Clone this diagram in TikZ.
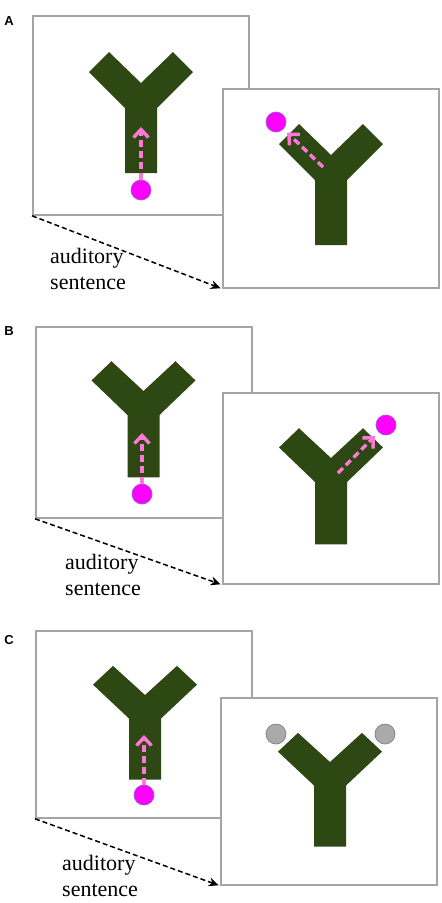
\documentclass[tikz,border=0pt]{standalone}
\usepackage{fontspec}
\setmainfont{Liberation Serif}
\setsansfont{Liberation Sans}
\usetikzlibrary{arrows.meta}

\definecolor{forkgreen}{RGB}{46,72,20}
\definecolor{ballpink}{RGB}{255,0,255}
\definecolor{balledge}{RGB}{150,90,210}
\definecolor{trackpink}{RGB}{255,120,215}
\definecolor{framegray}{RGB}{165,165,165}
\definecolor{ballgray}{RGB}{170,170,170}

\tikzset{
  frame/.style={draw=framegray, line width=1.8pt, fill=white, inner sep=0pt,
    minimum width=216pt, anchor=north west},
  ball/.style={circle, fill=ballpink, draw=balledge, line width=0.7pt,
    minimum size=20pt, inner sep=0pt},
  greyball/.style={ball, fill=ballgray, draw=gray},
  track/.style={draw=trackpink, line width=3.4pt, dash pattern=on 7pt off 4pt,
    -{Straight Barb[length=8pt,width=15pt]}},
  cue/.style={black, line width=1.5pt, dash pattern=on 5pt off 3pt,
    -{Stealth[length=10pt,width=9pt]}, shorten >=1.5pt},
  cuetext/.style={anchor=north west, inner sep=0pt, align=left,
    font=\fontsize{22}{26}\selectfont},
  panel/.style={font=\sffamily\bfseries\fontsize{13}{13}\selectfont},
  pics/yfork/.style={code={
    \fill[forkgreen] (-16,65) -- (16,65) -- (16,0) -- (52,-36) -- (32,-56) -- (0,-25)
      -- (-32,-56) -- (-52,-36) -- (-16,0) -- cycle;
  }}
}

\begin{document}
\begin{tikzpicture}[x=1pt, y=-1pt]
  \useasboundingbox (0,0) rectangle (442,903);

  % panel A
  \node[panel] (labA) at (9,21) {A};
  \node[frame, minimum height=199pt] (A1) at (32,15) {};
  \pic at (141,108) {yfork};
  \node[ball] (A1ball) at (141,190) {};
  \coordinate (A1tip) at (141,127);
  \draw[track] (A1ball) -- (A1tip);
  \node[frame, minimum height=199pt] (A2) at (222,88) {};
  \pic at (331,180) {yfork};
  \node[ball] (A2ball) at (276,122) {};
  \coordinate (A2tail) at (323,167);
  \draw[track, shorten >=5pt] (A2tail) -- (A2ball);
  \node[cuetext] (Atext) at (50,248) {auditory\\sentence};
  \draw[cue] (A1.south west) -- (A2.south west);

  % panel B
  \node[panel] (labB) at (9,331) {B};
  \node[frame, minimum height=191pt] (B1) at (35,326) {};
  \pic[yscale=0.96] at (143.5,415) {yfork};
  \node[ball] (B1ball) at (142,494) {};
  \coordinate (B1tip) at (142,433);
  \draw[track] (B1ball) -- (B1tip);
  \node[frame, minimum height=191pt] (B2) at (222,392) {};
  \pic[yscale=0.96] at (331,482) {yfork};
  \node[ball] (B2ball) at (386,425) {};
  \coordinate (B2tail) at (338,473);
  \draw[track, shorten >=5pt] (B2tail) -- (B2ball);
  \node[cuetext] (Btext) at (65,554) {auditory\\sentence};
  \draw[cue] (B1.south west) -- (B2.south west);

  % panel C
  \node[panel] (labC) at (9,640) {C};
  \node[frame, minimum height=187pt] (C1) at (35,630) {};
  \pic[yscale=0.94] at (145,718.5) {yfork};
  \node[ball] (C1ball) at (144,795) {};
  \coordinate (C1tip) at (144,735);
  \draw[track] (C1ball) -- (C1tip);
  \node[frame, minimum height=187pt] (C2) at (220,697) {};
  \pic[yscale=0.94] at (330,785.5) {yfork};
  \node[greyball] (C2left) at (276,734) {};
  \node[greyball] (C2right) at (385,734) {};
  \node[cuetext] (Ctext) at (62,855) {auditory\\sentence};
  \draw[cue] (C1.south west) -- (C2.south west);
\end{tikzpicture}
\end{document}
